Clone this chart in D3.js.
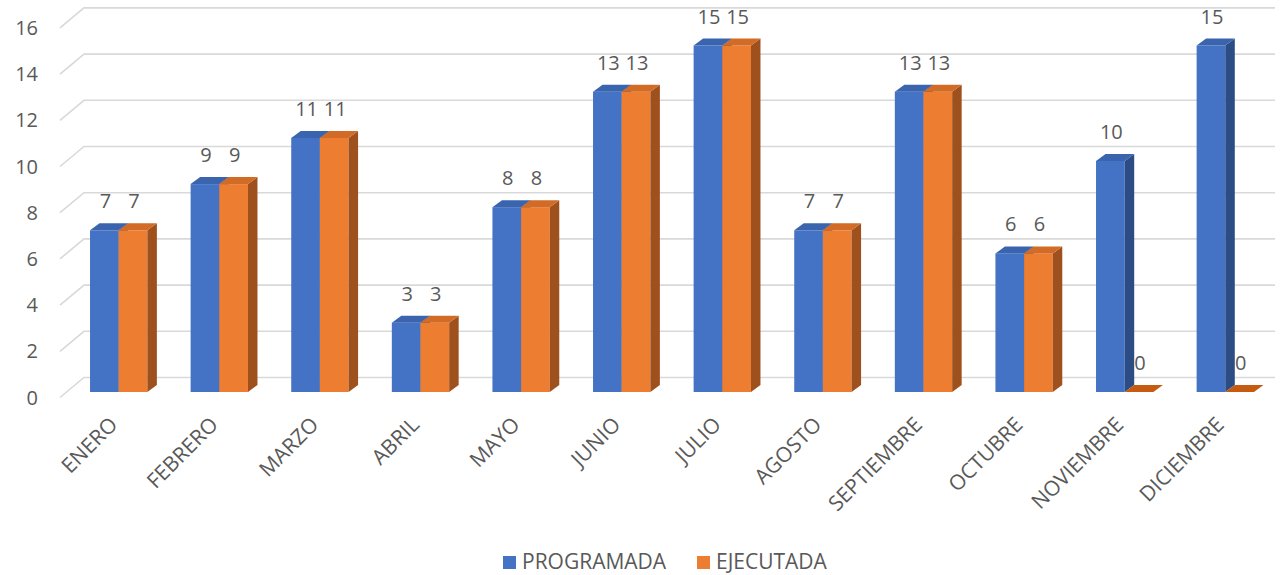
<!DOCTYPE html>
<html lang="es">
<head>
    <meta charset="utf-8">
    <title>Programada vs Ejecutada</title>
    <style>
body {
    margin: 0;
    background: #fff;
    font-family: "Open Sans", sans-serif;
}

.grid {
    stroke: #d9d9d9;
    stroke-width: 1.6;
    fill: none;
}

.lbl {
    fill: #595959;
    font-size: 20px;
}

.xlbl, .leg {
    font-size: 21px;
}
    </style>
    <script src="https://d3js.org/d3.v7.min.js"></script>
</head>
<body>
<div id="chart"></div>
<script type="text/javascript">
// datos
const months = ["ENERO", "FEBRERO", "MARZO", "ABRIL", "MAYO", "JUNIO", "JULIO",
    "AGOSTO", "SEPTIEMBRE", "OCTUBRE", "NOVIEMBRE", "DICIEMBRE"];
const programada = [7, 9, 11, 3, 8, 13, 15, 7, 13, 6, 10, 15];
const ejecutada = [7, 9, 11, 3, 8, 13, 15, 7, 13, 6, 0, 0];
const seriesNames = ["PROGRAMADA", "EJECUTADA"];
const yTicks = [0, 2, 4, 6, 8, 10, 12, 14, 16];

const width = 1281;
const height = 575;

// colores por serie: frente, tapa, lado
const colors = [
    { front: "#4472c4", top: "#3a64ae", side: "#2c4c86" },
    { front: "#ed7d31", top: "#d26b26", side: "#9e501d" }
];

const svg = d3.select("#chart").append("svg")
    .attr("width", width)
    .attr("height", height);

// escala de valores (cara frontal de las barras)
const y = d3.scaleLinear()
    .domain([0, 16])
    .range([392, 392 - 16 * 23.1]);

const x = d3.scaleBand()
    .domain(months)
    .range([68.4, 1275.6])
    .paddingInner(0.43)
    .paddingOuter(0.215);

const xs = d3.scaleBand()
    .domain(seriesNames)
    .range([0, x.bandwidth()]);

// profundidad de la pared y de las barras
const wallDx = 24, wallDy = -20;
const barDx = 9.5, barDy = -7;
const floorShift = 5.5; // piso frontal esta debajo de la base de las barras

// lineas de cuadricula
const grid = svg.append("g");
yTicks.forEach(function (t) {
    const yf = y(t) + floorShift;
    grid.append("path")
        .attr("class", "grid")
        .attr("d", "M60," + yf + "L" + (60 + wallDx) + "," + (yf + wallDy) + "L1275," + (yf + wallDy));
});

// etiquetas eje y
svg.append("g").selectAll("text")
    .data(yTicks)
    .enter()
    .append("text")
    .attr("class", "lbl")
    .attr("x", 38)
    .attr("y", d => y(d) + floorShift)
    .attr("dy", "0.35em")
    .attr("text-anchor", "end")
    .text(d => d);

const rows = [];
months.forEach(function (m, i) {
    rows.push({ month: m, serie: seriesNames[0], value: programada[i], c: colors[0] });
    rows.push({ month: m, serie: seriesNames[1], value: ejecutada[i], c: colors[1] });
});

// etiquetas de datos (debajo de las barras, el 0 queda tapado en parte)
svg.append("g").selectAll("text")
    .data(rows)
    .enter()
    .append("text")
    .attr("class", "lbl")
    .attr("x", d => x(d.month) + xs(d.serie) + xs.bandwidth() / 2 + 1)
    .attr("y", d => y(d.value) + barDy - 15)
    .attr("text-anchor", "middle")
    .text(d => d.value);

// barras 3d
const bars = svg.append("g");
rows.forEach(function (d) {
    const x0 = x(d.month) + xs(d.serie);
    const x1 = x0 + xs.bandwidth();
    const y0 = y(0);
    const y1 = y(d.value);
    const g = bars.append("g");
    if (d.value > 0) {
        g.append("rect")
            .attr("x", x0)
            .attr("y", y1)
            .attr("width", x1 - x0)
            .attr("height", y0 - y1)
            .attr("fill", d.c.front);
        g.append("path")
            .attr("d", "M" + x1 + "," + y1 + "L" + (x1 + barDx) + "," + (y1 + barDy) +
                "L" + (x1 + barDx) + "," + (y0 + barDy) + "L" + x1 + "," + y0 + "Z")
            .attr("fill", d.c.side);
    }
    g.append("path")
        .attr("d", "M" + x0 + "," + y1 + "L" + (x0 + barDx) + "," + (y1 + barDy) +
            "L" + (x1 + barDx) + "," + (y1 + barDy) + "L" + x1 + "," + y1 + "Z")
        .attr("fill", d.value > 0 ? d.c.top : "#c55a11");
});

// etiquetas eje x
svg.append("g").selectAll("text")
    .data(months)
    .enter()
    .append("text")
    .attr("class", "lbl xlbl")
    .attr("text-anchor", "end")
    .attr("transform", d => "translate(" + (x(d) + x.bandwidth() / 2) + ",426) rotate(-45)")
    .text(d => d);

// leyenda
const legend = svg.append("g");
const legendX = [503, 697];
seriesNames.forEach(function (s, i) {
    legend.append("rect")
        .attr("x", legendX[i])
        .attr("y", 556)
        .attr("width", 13)
        .attr("height", 13)
        .attr("fill", colors[i].front);
    legend.append("text")
        .attr("class", "lbl leg")
        .attr("x", legendX[i] + 19)
        .attr("y", 569)
        .text(s);
});
</script>
</body>
</html>
